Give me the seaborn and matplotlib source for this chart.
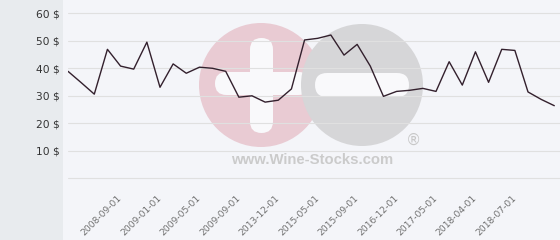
import matplotlib
matplotlib.use("Agg")
import matplotlib.pyplot as plt
from matplotlib.patches import Rectangle, Circle, FancyBboxPatch
import seaborn as sns
import pandas as pd

# ---- data ----
prices = [38.9, 34.8, 30.6, 46.9, 40.8, 39.7, 49.5, 33.1, 41.6, 38.2,
          40.4, 40.0, 38.9, 29.5, 30.0, 27.7, 28.4, 32.5, 50.3, 50.9,
          52.1, 44.8, 48.7, 40.8, 29.8, 31.6, 32.0, 32.7, 31.6, 42.4,
          33.9, 46.0, 34.9, 46.9, 46.5, 31.4, 28.7, 26.4]
tick_labels = ["2008-09-01", "2009-01-01", "2009-05-01", "2009-09-01",
               "2013-12-01", "2015-05-01", "2015-09-01", "2016-12-01",
               "2017-05-01", "2018-04-01", "2018-07-01"]
tick_index = [4, 7, 10, 13, 16, 19, 22, 25, 28, 31, 34]
y_ticks = [0, 10, 20, 30, 40, 50, 60]
y_tick_labels = ["", "10 $", "20 $", "30 $", "40 $", "50 $", "60 $"]

df = pd.DataFrame({"idx": range(len(prices)), "price": prices})

sns.set_style("white")
plt.rcParams["font.family"] = ["DejaVu Sans"]

W, H = 560, 240
fig = plt.figure(figsize=(W / 100, H / 100), dpi=100)

# background + watermark layer (pixel coordinates)
bg = fig.add_axes([0, 0, 1, 1])
bg.set_xlim(0, W)
bg.set_ylim(H, 0)
bg.axis("off")
bg.add_patch(Rectangle((0, 0), 63, H, color="#e8ebee", lw=0))
bg.add_patch(Rectangle((63, 0), W - 63, H, color="#f4f5f9", lw=0))

pink = "#e9cbd3"
grey = "#d6d6d8"
white = "#f9f9fb"
bg.add_patch(Circle((261, 85), 62, color=pink, lw=0))
bg.add_patch(FancyBboxPatch((215, 72), 95, 23, boxstyle="round,pad=0,rounding_size=11.5",
                            color=white, lw=0))
bg.add_patch(FancyBboxPatch((250, 38), 23, 95, boxstyle="round,pad=0,rounding_size=11.5",
                            color=white, lw=0))
bg.add_patch(Circle((362, 85), 61, color=grey, lw=0))
bg.add_patch(FancyBboxPatch((315, 73), 94, 24, boxstyle="round,pad=0,rounding_size=12",
                            color=white, lw=0))
bg.text(413.5, 140, "®", fontsize=11, color="#c8c8c8", ha="center", va="center")
bg.text(312.5, 160.5, "www.Wine-Stocks.com", fontsize=10.7, color="#cbcbcb",
        fontweight="bold", family=["Liberation Sans", "DejaVu Sans"],
        ha="center", va="center")

# main chart
left_px, top_px, bottom_px = 68, 13.3, 178.3
ax = fig.add_axes([left_px / W, (H - bottom_px) / H, (W - left_px) / W,
                   (bottom_px - top_px) / H])
ax.set_facecolor("none")
sns.lineplot(data=df, x="idx", y="price", ax=ax, color="#33202d", lw=1.0)

step = (554.3 - 68.3) / (len(prices) - 1)
ax.set_xlim(0, (W - 68.3) / step)
ax.set_ylim(0, 60)
ax.set_yticks(y_ticks)
ax.set_yticklabels(y_tick_labels, fontsize=7.7, color="#333333")
ax.set_xticks(tick_index)
ax.set_xticklabels(tick_labels, fontsize=6.6, color="#707070", rotation=45,
                   ha="right", va="center", rotation_mode="anchor")
ax.tick_params(axis="y", length=0, pad=6.3)
ax.tick_params(axis="x", length=0, pad=13)
ax.grid(axis="y", color="#e0e0e0", lw=0.8)
ax.grid(axis="x", visible=False)
for gl in ax.get_ygridlines():
    gl.set_clip_on(False)
ax.set_axisbelow(True)
ax.set_xlabel("")
ax.set_ylabel("")
for s in ax.spines.values():
    s.set_visible(False)

fig.savefig("out.png", dpi=100)
